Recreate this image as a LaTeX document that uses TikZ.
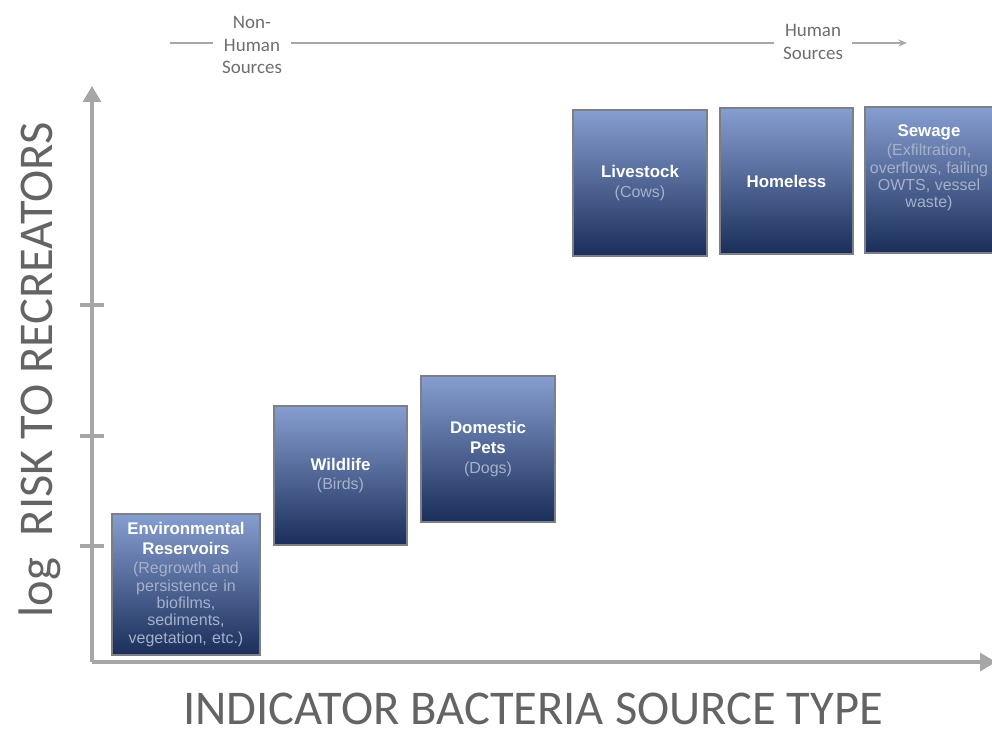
\documentclass[tikz,border=0pt]{standalone}
\usepackage{fontspec}
\setmainfont{Liberation Sans}
\newfontfamily\axisfont{Carlito}
\usetikzlibrary{arrows.meta}

\definecolor{axisgray}{HTML}{A6A6A6}
\definecolor{flowgray}{HTML}{A8A8A8}
\definecolor{boxtop}{HTML}{869ED0}
\definecolor{boxmid}{HTML}{3E5A97}
\definecolor{boxbot}{HTML}{1B2E5A}
\definecolor{boxedge}{HTML}{7C7F86}
\definecolor{subtxt}{HTML}{A5B1CA}
\definecolor{labelgray}{HTML}{646464}
\definecolor{toptxt}{HTML}{6E6E6E}

% one bold white title line inside a source box
\newcommand{\srct}[1]{{\fontsize{9.6}{11.3}\selectfont\bfseries\color{white}#1}}

\tikzset{
  srctext/.style={align=center, inner sep=0pt, text=subtxt,
    font=\fontsize{9.1}{9.9}\selectfont},
  srcbox/.style={srctext, draw=boxedge, line width=0.6pt, top color=boxtop,
    middle color=boxmid, bottom color=boxbot, text width=2.6cm},
  axisline/.style={draw=axisgray, line width=2.8pt},
  tickmark/.style={draw=axisgray, line width=2.2pt},
  axislabel/.style={font=\axisfont\fontsize{27.6}{30}\selectfont, text=labelgray,
    inner sep=0pt},
  flowlabel/.style={font=\axisfont\fontsize{10.8}{13}\selectfont, text=toptxt,
    align=center, fill=white, inner sep=5pt},
  flowline/.style={draw=flowgray, line width=0.7pt}
}

\begin{document}
\begin{tikzpicture}[x=0.02cm, y=-0.02cm]
\useasboundingbox (0,0) rectangle (992,731);

% source flow along the top
\coordinate (flowstart) at (170,43);
\coordinate (flowend) at (907,43);
\node[flowlabel] (nonhuman) at (252,45) {Non-\\Human\\Sources};
\node[flowlabel] (human) at (813,42) {Human\\Sources};
\draw[flowline] (flowstart) -- (flowstart -| nonhuman.west);
\draw[flowline] (nonhuman.east |- flowstart) -- (human.west |- flowstart);
\draw[flowline, -{Stealth[length=5pt,width=4pt]}] (human.east |- flowstart) -- (flowend);

% axes
\coordinate (origin) at (92,662);
\coordinate (ytip) at (92,86);
\coordinate (xtip) at (996,662);
\draw[axisline, -{Triangle[length=9pt,width=10pt]}] (origin) -- (ytip);
\draw[axisline, -{Triangle[length=9pt,width=10pt]}] (origin) -- (xtip);
\foreach \ty in {305,436,546}
  \draw[tickmark] (80,\ty) -- (104,\ty);

\node[axislabel, rotate=90, anchor=base] (ylab) at (52,370) {log\ \ RISK TO RECREATORS};
\node[axislabel, anchor=base] (xlab) at (533,724) {INDICATOR BACTERIA SOURCE TYPE};

% sources, ordered by risk
\node[srcbox, minimum width=2.96cm, minimum height=2.82cm] (env) at (186,584.5)
  {\srct{Environmental}\\[1.5pt]\srct{Reservoirs}\\[1pt]
   (Regrowth and\\persistence in\\biofilms,\\sediments,\\vegetation, etc.)};
\node[srcbox, minimum width=2.66cm, minimum height=2.78cm] (wild) at (340.5,475.5)
  {\srct{Wildlife}\\[1pt](Birds)};
\node[srcbox, minimum width=2.68cm, minimum height=2.92cm] (pets) at (488,449)
  {\srct{Domestic}\\[1.5pt]\srct{Pets}\\[1pt](Dogs)};
\node[srcbox, minimum width=2.68cm, minimum height=2.92cm] (live) at (640,183)
  {\srct{Livestock}\\[1pt](Cows)};
\node[srcbox, minimum width=2.66cm, minimum height=2.92cm] (home) at (786.5,181)
  {\srct{Homeless}};
\node[srcbox, minimum width=2.70cm, minimum height=2.92cm] (sew) at (932.5,180) {};
\node[srctext] (sewtext) at (929,168)
  {\srct{Sewage}\\[1pt]
   (Exfiltration,\\overflows, failing\\OWTS, vessel\\waste)};
\end{tikzpicture}
\end{document}
